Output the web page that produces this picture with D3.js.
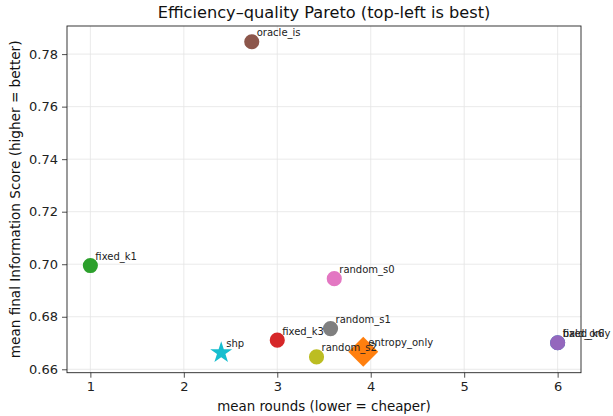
<!DOCTYPE html>
<html><head><meta charset="utf-8">
<script src="https://cdn.jsdelivr.net/npm/d3@7"></script>
<style>body{margin:0;background:#fff;} text{font-family:"DejaVu Sans",sans-serif;}</style>
</head><body><svg id="c" width="613" height="416"></svg>
<script>
const names   = ["bald_only","entropy_only","fixed_k1","fixed_k3","fixed_k6","oracle_is","random_s0","random_s1","random_s2","shp"];
const rounds  = [6.0, 3.92, 1.0, 3.0, 6.0, 2.727, 3.61, 3.57, 3.42, 2.40];
const scores  = [0.6701, 0.6667, 0.6995, 0.6711, 0.6701, 0.7847, 0.6945, 0.6755, 0.6647, 0.6663];
const shapes  = ["circle","diamond","circle","circle","circle","circle","circle","circle","circle","star"];
const colors  = ["#1f77b4","#ff7f0e","#2ca02c","#d62728","#9467bd","#8c564b","#e377c2","#7f7f7f","#bcbd22","#17becf"];
const xTicks  = [1,2,3,4,5,6];
const yTicks  = [0.66,0.68,0.70,0.72,0.74,0.76,0.78];

const svg = d3.select("#c");
const L=67,R=581,T=26,B=372.7;
const xmin=d3.min(rounds), xmax=d3.max(rounds), xr=xmax-xmin;
const ymin=d3.min(scores), ymax=d3.max(scores), yr=ymax-ymin;
const x = d3.scaleLinear().domain([xmin-0.05*xr, xmax+0.05*xr]).range([L,R]);
const y = d3.scaleLinear().domain([ymin-0.05*yr, ymax+0.05*yr]).range([B,T]);

// grid
svg.append("g").selectAll("line").data(xTicks).join("line")
  .attr("x1",d=>x(d)).attr("x2",d=>x(d)).attr("y1",T).attr("y2",B)
  .attr("stroke","#e5e5e5").attr("stroke-width",0.8);
svg.append("g").selectAll("line").data(yTicks).join("line")
  .attr("y1",d=>y(d)).attr("y2",d=>y(d)).attr("x1",L).attr("x2",R)
  .attr("stroke","#e5e5e5").attr("stroke-width",0.8);

// axes
const xa = svg.append("g").attr("transform",`translate(0,${B})`)
  .call(d3.axisBottom(x).tickValues(xTicks).tickFormat(d3.format("d")).tickSize(5).tickPadding(4));
const ya = svg.append("g").attr("transform",`translate(${L},0)`)
  .call(d3.axisLeft(y).tickValues(yTicks).tickFormat(d3.format(".2f")).tickSize(5).tickPadding(4));
[xa,ya].forEach(g=>{
  g.select(".domain").remove();
  g.selectAll("line").attr("stroke","#222").attr("stroke-width",0.8);
  g.selectAll("text").attr("font-size",13).attr("fill","#222").style("font-family","DejaVu Sans");
});
svg.append("rect").attr("x",L).attr("y",T).attr("width",R-L).attr("height",B-T)
  .attr("fill","none").attr("stroke","#222").attr("stroke-width",0.9);

// points
const idx = d3.range(names.length);
const sym = t => t==="star" ? d3.symbol().type(d3.symbolStar).size(150)()
              : t==="diamond" ? d3.symbol().type(d3.symbolSquare).size(450)()
              : d3.symbol().type(d3.symbolCircle).size(180)();
svg.append("g").selectAll("path").data(idx).join("path")
  .attr("d",i=>sym(shapes[i]))
  .attr("transform",i=>`translate(${x(rounds[i])},${y(scores[i])})` + (shapes[i]==="diamond"?" rotate(45)":""))
  .attr("fill",i=>colors[i]);

// labels
svg.append("g").selectAll("text").data(idx).join("text")
  .attr("x",i=>x(rounds[i])+5).attr("y",i=>y(scores[i])-5.5)
  .attr("font-size",10).attr("fill","#222").text(i=>names[i]);

// titles
svg.append("text").attr("x",(L+R)/2).attr("y",18).attr("text-anchor","middle")
  .attr("font-size",16.2).attr("fill","#111").text("Efficiency–quality Pareto (top-left is best)");
svg.append("text").attr("x",(L+R)/2).attr("y",410.5).attr("text-anchor","middle")
  .attr("font-size",13.4).attr("fill","#111").text("mean rounds (lower = cheaper)");
svg.append("text").attr("transform",`translate(20,${(T+B)/2}) rotate(-90)`).attr("text-anchor","middle")
  .attr("font-size",13.6).attr("fill","#111").text("mean final Information Score (higher = better)");
</script></body></html>
